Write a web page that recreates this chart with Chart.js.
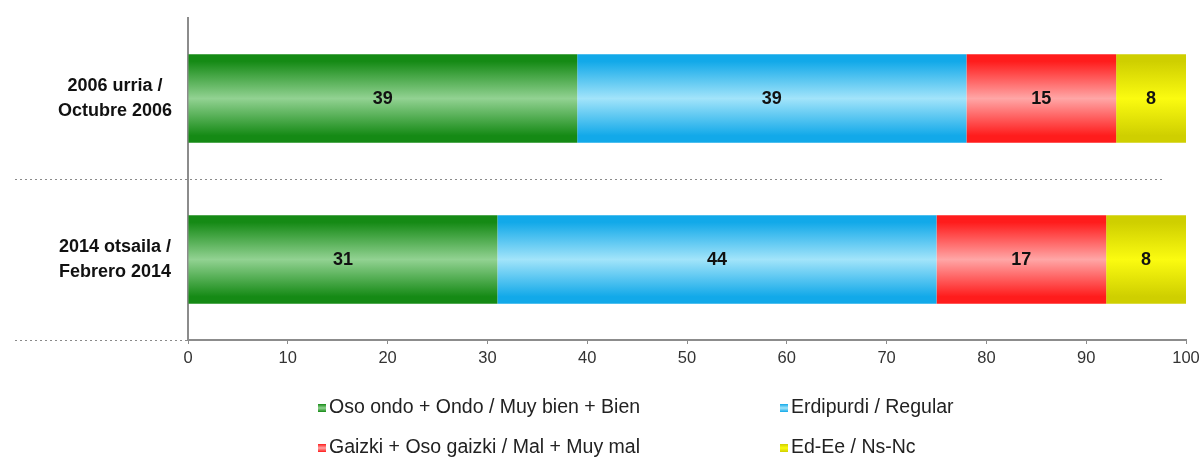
<!DOCTYPE html>
<html>
<head>
<meta charset="utf-8">
<script src="https://cdn.jsdelivr.net/npm/chart.js@4/dist/chart.umd.min.js"></script>
<style>
  html, body { margin: 0; padding: 0; background: #fff; }
  #wrap { width: 1204px; height: 460px; }
</style>
</head>
<body>
<div id="wrap"><canvas id="c"></canvas></div>
<script>
const categories = [["2006 urria /", "Octubre 2006"], ["2014 otsaila /", "Febrero 2014"]];
const seriesNames = [
    "Oso ondo + Ondo / Muy bien + Bien",
    "Erdipurdi / Regular",
    "Gaizki + Oso gaizki / Mal + Muy mal",
    "Ed-Ee / Ns-Nc"
];
const good = [39, 31];
const regular = [39, 44];
const bad = [15, 17];
const nsnc = [8, 8];
const xTicks = [0, 10, 20, 30, 40, 50, 60, 70, 80, 90, 100];

// edge colour, middle colour for each series
const shades = [
    ["#158a15", "#92d292"],
    ["#12a9e9", "#a2e4fa"],
    ["#ff1c1c", "#ffa6a6"],
    ["#cfcf00", "#fbfb10"]
];

const barPct = 0.55;
const font = "'Liberation Sans', Arial, sans-serif";

function barFill(ctx, i) {
    const chart = ctx.chart;
    const yScale = chart.scales.y;
    if (!yScale || !chart.chartArea || ctx.dataIndex === undefined) return shades[i][0];
    const center = yScale.getPixelForValue(ctx.dataIndex);
    const band = (chart.chartArea.bottom - chart.chartArea.top) / categories.length;
    const half = band * barPct / 2;
    const g = chart.ctx.createLinearGradient(0, center - half, 0, center + half);
    g.addColorStop(0, shades[i][0]);
    g.addColorStop(0.08, shades[i][0]);
    g.addColorStop(0.5, shades[i][1]);
    g.addColorStop(0.92, shades[i][0]);
    g.addColorStop(1, shades[i][0]);
    return g;
}

function makeSet(label, data, i) {
    return {
        label: label,
        data: data,
        backgroundColor: (ctx) => barFill(ctx, i),
        borderWidth: 0,
        barPercentage: barPct,
        categoryPercentage: 1
    };
}

const dotted = {
    id: "dotted",
    beforeDatasetsDraw(chart) {
        const c = chart.ctx;
        const y = chart.scales.y;
        const area = chart.chartArea;
        c.save();
        c.strokeStyle = "#8a8a8a";
        c.lineWidth = 1;
        c.setLineDash([2, 3]);
        for (let i = 0; i < categories.length - 1; i++) {
            const yy = Math.round((y.getPixelForValue(i) + y.getPixelForValue(i + 1)) / 2) + 0.5;
            c.beginPath();
            c.moveTo(15, yy);
            c.lineTo(1165, yy);
            c.stroke();
        }
        const yb = Math.round(area.bottom) + 0.5;
        c.beginPath();
        c.moveTo(15, yb);
        c.lineTo(area.left, yb);
        c.stroke();
        c.restore();
    }
};

const valueLabels = {
    id: "valueLabels",
    afterDatasetsDraw(chart) {
        const c = chart.ctx;
        c.save();
        c.font = "bold 18px " + font;
        c.fillStyle = "#111";
        c.textAlign = "center";
        c.textBaseline = "middle";
        chart.data.datasets.forEach((ds, i) => {
            chart.getDatasetMeta(i).data.forEach((bar, j) => {
                const right = Math.min(bar.x, chart.chartArea.right);
                c.fillText(ds.data[j], (right + bar.base) / 2, bar.y + 1);
            });
        });
        c.restore();
    }
};

const gridLegend = {
    id: "gridLegend",
    afterDraw(chart) {
        const c = chart.ctx;
        const cols = [318, 780];
        const rows = [408, 448];
        c.save();
        c.font = "19.5px " + font;
        c.textBaseline = "middle";
        chart.data.datasets.forEach((ds, i) => {
            const x = cols[i % 2];
            const y = rows[Math.floor(i / 2)];
            const g = c.createLinearGradient(0, y - 4, 0, y + 4);
            g.addColorStop(0, shades[i][0]);
            g.addColorStop(0.5, shades[i][1]);
            g.addColorStop(1, shades[i][0]);
            c.fillStyle = g;
            c.fillRect(x, y - 4, 8, 8);
            c.fillStyle = "#222";
            c.fillText(ds.label, x + 11, y);
        });
        c.restore();
    }
};

new Chart(document.getElementById("c"), {
    type: "bar",
    data: {
        labels: categories,
        datasets: [
            makeSet(seriesNames[0], good, 0),
            makeSet(seriesNames[1], regular, 1),
            makeSet(seriesNames[2], bad, 2),
            makeSet(seriesNames[3], nsnc, 3)
        ]
    },
    options: {
        indexAxis: "y",
        responsive: true,
        maintainAspectRatio: false,
        animation: false,
        layout: { padding: { top: 18, right: 18, left: 0, bottom: 0 } },
        plugins: {
            legend: { display: false },
            tooltip: { enabled: false }
        },
        scales: {
            x: {
                stacked: true,
                min: 0,
                max: 100,
                afterBuildTicks: (scale) => { scale.ticks = xTicks.map(v => ({ value: v })); },
                afterFit: (scale) => { scale.height = 120; scale.paddingLeft = 0; scale.paddingRight = 0; },
                border: { display: true, color: "#8c8c8c", width: 2 },
                grid: { drawOnChartArea: false, drawTicks: true, tickLength: 4, color: "#8c8c8c" },
                ticks: {
                    color: "#333",
                    padding: 5,
                    font: { family: font, size: 16.5 }
                }
            },
            y: {
                stacked: true,
                afterFit: (scale) => { scale.width = 188; scale.paddingTop = 0; scale.paddingBottom = 0; },
                border: { display: true, color: "#8c8c8c", width: 2 },
                grid: { display: false },
                ticks: {
                    color: "#111",
                    padding: 8,
                    crossAlign: "center",
                    font: { family: font, size: 18, weight: "bold", lineHeight: 1.35 }
                }
            }
        }
    },
    plugins: [dotted, valueLabels, gridLegend]
});
</script>
</body>
</html>
